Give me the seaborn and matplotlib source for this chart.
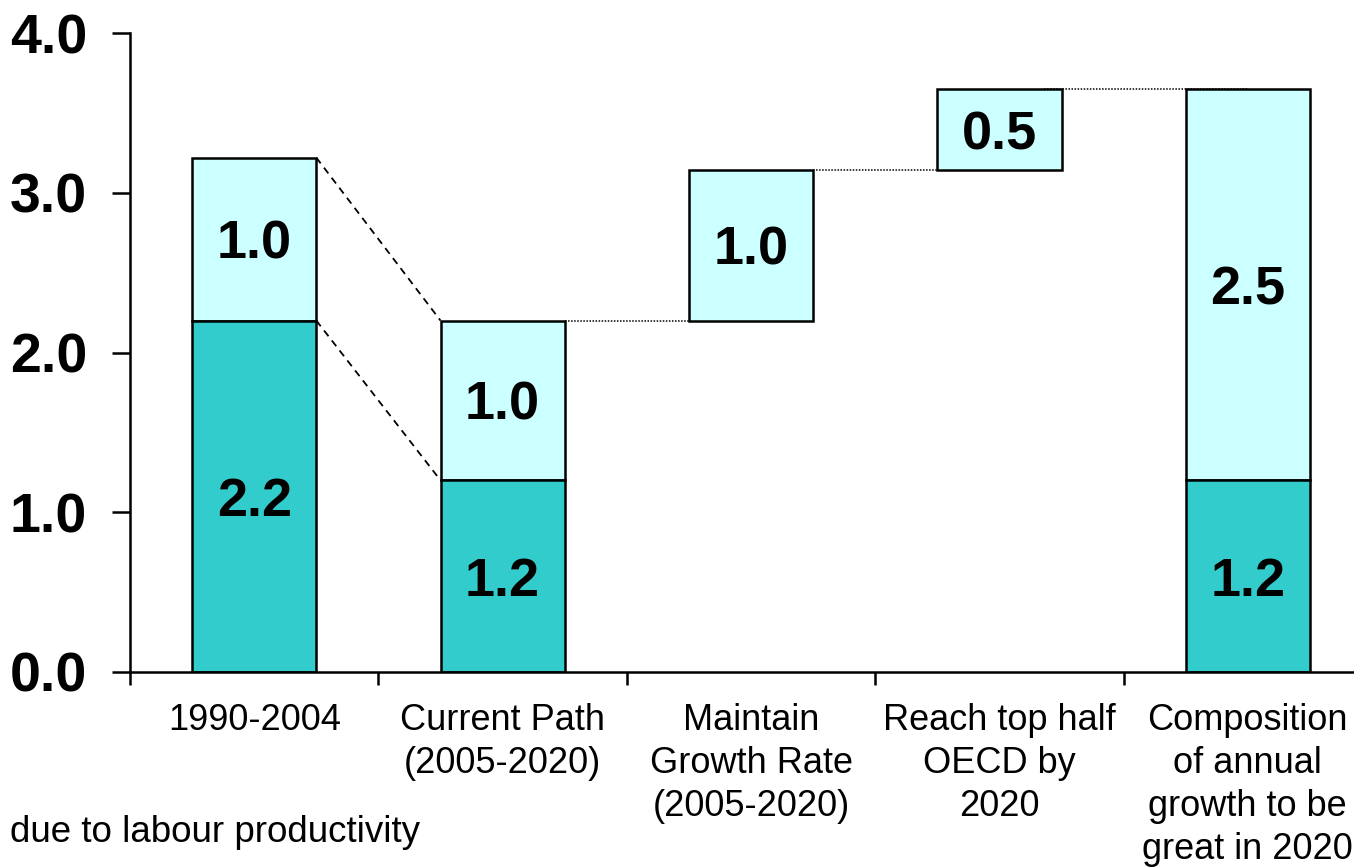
import matplotlib
matplotlib.use("Agg")
import matplotlib.pyplot as plt
import seaborn as sns
import pandas as pd

categories = ["1990-2004", "Current Path\n(2005-2020)", "Maintain\nGrowth Rate\n(2005-2020)",
              "Reach top half\nOECD by\n2020", "Composition\nof annual\ngrowth to be\ngreat in 2020"]
base_values = [2.2, 1.2, 0.0, 0.0, 1.2]          # labour productivity (dark)
upper_bottoms = [2.2, 1.2, 2.2, 3.14, 1.2]        # where light segment starts
upper_heights = [1.02, 1.0, 0.94, 0.51, 2.45]     # light segment heights
base_labels = ["2.2", "1.2", "", "", "1.2"]
upper_labels = ["1.0", "1.0", "1.0", "0.5", "2.5"]
yticks = [0.0, 1.0, 2.0, 3.0, 4.0]
legend_text = "due to labour productivity"

sns.set_theme(style="white")
plt.rcParams['font.family'] = ['Liberation Sans', 'DejaVu Sans']
plt.rcParams['text.color'] = 'black'
plt.rcParams['xtick.color'] = 'black'
plt.rcParams['ytick.color'] = 'black'
plt.rcParams['axes.labelcolor'] = 'black'

dark = "#33CCCC"
light = "#CCFFFF"

fig = plt.figure(figsize=(13.54, 8.68), dpi=100)
ax = fig.add_axes([130/1354, 1-672/868, (1372-130)/1354, (672-33)/868])

df = pd.DataFrame({"cat": categories, "base": base_values,
                   "ub": upper_bottoms, "uh": upper_heights})

# light segments
sns.barplot(data=df, x="cat", y="uh", color=light, width=0.5, edgecolor="black",
            linewidth=1.8, ax=ax, saturation=1)
light_patches = list(ax.patches)
for p, b in zip(light_patches, upper_bottoms):
    p.set_y(b)
# dark segments
sns.barplot(data=df, x="cat", y="base", color=dark, width=0.5, edgecolor="black",
            linewidth=1.8, ax=ax, saturation=1)
dark_patches = [p for p in ax.patches if p not in light_patches]
for p, v in zip(dark_patches, base_values):
    if v == 0:
        p.set_visible(False)

# labels
for i in range(len(categories)):
    if base_labels[i]:
        ax.text(i, base_values[i] / 2, base_labels[i], ha="center", va="center_baseline",
                fontsize=39, fontweight="bold", color="black")
    ax.text(i, upper_bottoms[i] + upper_heights[i] / 2, upper_labels[i], ha="center",
            va="center_baseline", fontsize=39, fontweight="bold", color="black")

# connector lines
tops = [b + h for b, h in zip(upper_bottoms, upper_heights)]
ax.plot([0.25, 0.75], [tops[0], tops[1]], ls=(0, (4, 3)), color="black", lw=1.3)
ax.plot([0.25, 0.75], [base_values[0], base_values[1]], ls=(0, (4, 3)), color="black", lw=1.3)
ax.plot([1.25, 1.75], [tops[1], upper_bottoms[2]], ls=(0, (1, 1)), color="black", lw=1.1)
ax.plot([2.25, 2.75], [tops[2], upper_bottoms[3]], ls=(0, (1, 1)), color="black", lw=1.1)
ax.plot([3.18, 4.0], [tops[3], tops[4]], ls=(0, (1, 1)), color="black", lw=1.1)

ax.set_xlim(-0.5, 4.5)
ax.set_ylim(0, 4.0)
ax.set_yticks(yticks)
ax.set_yticklabels([f"{v:.1f}" for v in yticks], fontsize=40, fontweight="bold")
ax.tick_params(axis="y", direction="out", length=13, width=1.8, pad=18, left=True, color="black")

ax.set_xticks([-0.5, 0.5, 1.5, 2.5, 3.5, 4.5])
ax.set_xticklabels([])
ax.set_xticks(range(len(categories)), minor=True)
ax.set_xticklabels(categories, minor=True, fontsize=26, linespacing=1.3)
ax.tick_params(axis="x", which="major", direction="out", length=9, width=1.8, bottom=True, color="black")
ax.tick_params(axis="x", which="minor", length=0, pad=22)
ax.set_xlabel("")
ax.set_ylabel("")

for s in ["top", "right"]:
    ax.spines[s].set_visible(False)
for s in ["left", "bottom"]:
    ax.spines[s].set_color("black")
    ax.spines[s].set_linewidth(1.8)

fig.text(10/1354, 1-832/868, legend_text, fontsize=26.5, ha="left", va="center", color="black")

fig.savefig("out.png", dpi=100)
